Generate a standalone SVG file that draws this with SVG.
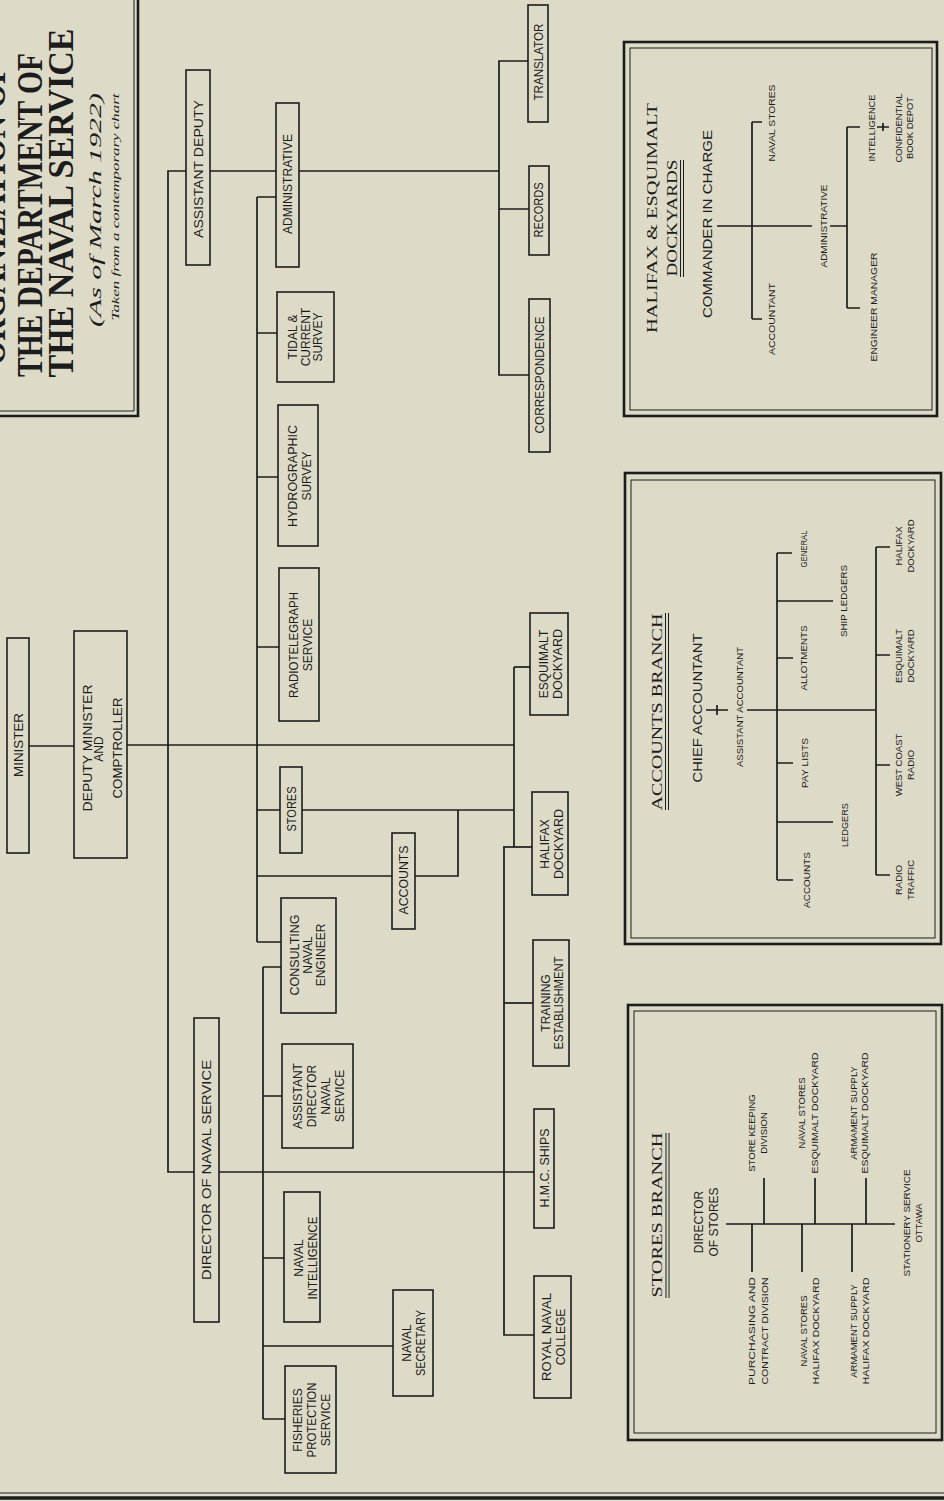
<svg xmlns="http://www.w3.org/2000/svg" width="944" height="1501" viewBox="0 0 944 1501">
<style>
.bg{fill:#dddac7}
.b{fill:none;stroke:#1c1c1c;stroke-width:1.6}
.c{fill:none;stroke:#1c1c1c;stroke-width:1.7}
.o{fill:none;stroke:#1c1c1c;stroke-width:2.6}
.i{fill:none;stroke:#1c1c1c;stroke-width:1}
.t{font-family:"Liberation Sans",Arial,sans-serif;fill:#1c1c1c;text-anchor:middle;font-size:12px}
.p{font-family:"Liberation Sans",Arial,sans-serif;fill:#1c1c1c;text-anchor:middle;font-size:9.5px}
.s{font-family:"Liberation Serif","Times New Roman",serif;fill:#1c1c1c;text-anchor:middle}
</style>
<rect class="bg" x="0" y="0" width="944" height="1501"/>

<g id="title">
<path class="o" d="M138,-5 V416 H-5"/>
<path class="i" d="M134,-5 V411 H-5"/>
<text class="s" font-weight="bold" font-size="36" transform="translate(5 215) rotate(-90)" textLength="300" lengthAdjust="spacingAndGlyphs">ORGANIZATION OF</text>
<text class="s" font-weight="bold" font-size="36" transform="translate(42 215) rotate(-90)" textLength="324" lengthAdjust="spacingAndGlyphs">THE DEPARTMENT OF</text>
<text class="s" font-weight="bold" font-size="36" transform="translate(73 203) rotate(-90)" textLength="349" lengthAdjust="spacingAndGlyphs">THE NAVAL SERVICE</text>
<text class="s" font-style="italic" font-size="16" transform="translate(101 210) rotate(-90)" textLength="234" lengthAdjust="spacingAndGlyphs">(As of March 1922)</text>
<text class="s" font-style="italic" font-size="11" transform="translate(119 207) rotate(-90)" textLength="227" lengthAdjust="spacingAndGlyphs">Taken from a contemporary chart</text>
</g>

<g id="connectors">
<path class="c" d="M29,746 H74"/>
<path class="c" d="M127,745 H514"/>
<path class="c" d="M514,667 V847"/>
<path class="c" d="M514,667 H530"/>
<path class="c" d="M503,847 H532"/>
<path class="c" d="M302,810 H514"/>
<path class="c" d="M458,810 V876 H415"/>
<path class="c" d="M257,876 H392"/>
<path class="c" d="M257,197 V942"/>
<path class="c" d="M257,197 H276 M257,333 H277 M257,477 H278 M257,647 H279 M257,810 H280 M257,942 H281"/>
<path class="c" d="M263,967 V1419"/>
<path class="c" d="M263,967 H281 M263,1096 H282 M263,1258 H284 M263,1346 H393 M263,1419 H285"/>
<path class="c" d="M186,171 H168 V1172 H194"/>
<path class="c" d="M219,1172 H534"/>
<path class="c" d="M504,847 V1335 H534"/>
<path class="c" d="M504,1003 H533"/>
<path class="c" d="M210,171 H276 M299,171 H499"/>
<path class="c" d="M528,61 H499 V375 H529 M499,209 H529"/>
</g>

<g id="n-minister"><rect class="b" x="7" y="638" width="22" height="215"/>
<text class="t" font-size="13.5" transform="translate(23 745) rotate(-90)" textLength="64" lengthAdjust="spacingAndGlyphs">MINISTER</text></g>

<g id="n-deputy"><rect class="b" x="74" y="631" width="53" height="227"/>
<text class="t" font-size="13.5" transform="translate(92 748) rotate(-90)" textLength="127" lengthAdjust="spacingAndGlyphs">DEPUTY  MINISTER</text>
<text class="t" font-size="7" transform="translate(103 749) rotate(-90)">AND</text>
<text class="t" font-size="13.5" transform="translate(122 748) rotate(-90)" textLength="101" lengthAdjust="spacingAndGlyphs">COMPTROLLER</text></g>

<g id="n-asstdeputy"><rect class="b" x="186" y="70" width="24" height="195"/>
<text class="t" font-size="13" transform="translate(203 169) rotate(-90)" textLength="138" lengthAdjust="spacingAndGlyphs">ASSISTANT DEPUTY</text></g>

<g id="n-admin"><rect class="b" x="276" y="103" width="23" height="164"/>
<text class="t" font-size="11.5" transform="translate(292 184) rotate(-90)" textLength="100" lengthAdjust="spacingAndGlyphs">ADMINISTRATIVE</text></g>

<g id="n-tidal"><rect class="b" x="277" y="292" width="57" height="90"/>
<text class="t" font-size="11" transform="translate(297 337) rotate(-90)">TIDAL &amp;</text>
<text class="t" font-size="11" transform="translate(309.5 337) rotate(-90)">CURRENT</text>
<text class="t" font-size="11" transform="translate(322 337) rotate(-90)">SURVEY</text></g>

<g id="n-hydro"><rect class="b" x="278" y="405" width="40" height="141"/>
<text class="t" transform="translate(297 476) rotate(-90)" textLength="102" lengthAdjust="spacingAndGlyphs">HYDROGRAPHIC</text>
<text class="t" transform="translate(311 476) rotate(-90)">SURVEY</text></g>

<g id="n-radio"><rect class="b" x="279" y="568" width="40" height="153"/>
<text class="t" font-size="11.5" transform="translate(297.5 645) rotate(-90)" textLength="106" lengthAdjust="spacingAndGlyphs">RADIOTELEGRAPH</text>
<text class="t" font-size="11.5" transform="translate(311.5 645) rotate(-90)">SERVICE</text></g>

<g id="n-stores"><rect class="b" x="280" y="767" width="22" height="86"/>
<text class="t" transform="translate(295.5 809) rotate(-90)" textLength="45" lengthAdjust="spacingAndGlyphs">STORES</text></g>

<g id="n-accounts"><rect class="b" x="392" y="833" width="23" height="96"/>
<text class="t" transform="translate(407.5 880) rotate(-90)" textLength="69" lengthAdjust="spacingAndGlyphs">ACCOUNTS</text></g>

<g id="n-consulting"><rect class="b" x="281" y="898" width="55" height="115"/>
<text class="t" transform="translate(298.5 955) rotate(-90)" textLength="81" lengthAdjust="spacingAndGlyphs">CONSULTING</text>
<text class="t" transform="translate(311.5 955) rotate(-90)">NAVAL</text>
<text class="t" transform="translate(324.5 955) rotate(-90)">ENGINEER</text></g>

<g id="n-adns"><rect class="b" x="282" y="1044" width="71" height="104"/>
<text class="t" transform="translate(302 1096) rotate(-90)">ASSISTANT</text>
<text class="t" transform="translate(316 1096) rotate(-90)">DIRECTOR</text>
<text class="t" transform="translate(330 1096) rotate(-90)">NAVAL</text>
<text class="t" transform="translate(344 1096) rotate(-90)">SERVICE</text></g>

<g id="n-navint"><rect class="b" x="284" y="1192" width="36" height="130"/>
<text class="t" font-size="11.5" transform="translate(303 1258) rotate(-90)">NAVAL</text>
<text class="t" font-size="11.5" transform="translate(317 1258) rotate(-90)" textLength="83" lengthAdjust="spacingAndGlyphs">INTELLIGENCE</text></g>

<g id="n-dns"><rect class="b" x="194" y="1018" width="25" height="304"/>
<text class="t" font-size="13.5" transform="translate(211 1170) rotate(-90)" textLength="220" lengthAdjust="spacingAndGlyphs">DIRECTOR  OF  NAVAL  SERVICE</text></g>

<g id="n-navsec"><rect class="b" x="393" y="1290" width="40" height="106"/>
<text class="t" font-size="11.5" transform="translate(411 1343) rotate(-90)">NAVAL</text>
<text class="t" font-size="11.5" transform="translate(425 1343) rotate(-90)" textLength="66" lengthAdjust="spacingAndGlyphs">SECRETARY</text></g>

<g id="n-fisheries"><rect class="b" x="285" y="1366" width="51" height="107"/>
<text class="t" transform="translate(302 1420) rotate(-90)">FISHERIES</text>
<text class="t" transform="translate(316 1420) rotate(-90)" textLength="75" lengthAdjust="spacingAndGlyphs">PROTECTION</text>
<text class="t" transform="translate(330 1420) rotate(-90)">SERVICE</text></g>

<g id="n-hmc"><rect class="b" x="534" y="1109" width="20" height="119"/>
<text class="t" font-size="12.5" transform="translate(548.5 1168) rotate(-90)" textLength="79" lengthAdjust="spacingAndGlyphs">H.M.C. SHIPS</text></g>

<g id="n-training"><rect class="b" x="533" y="940" width="36" height="126"/>
<text class="t" font-size="11.5" transform="translate(549.5 1003) rotate(-90)">TRAINING</text>
<text class="t" font-size="11.5" transform="translate(563 1003) rotate(-90)" textLength="93" lengthAdjust="spacingAndGlyphs">ESTABLISHMENT</text></g>

<g id="n-halifax"><rect class="b" x="532" y="792" width="36" height="103"/>
<text class="t" transform="translate(548.5 844) rotate(-90)">HALIFAX</text>
<text class="t" transform="translate(562.5 844) rotate(-90)" textLength="70" lengthAdjust="spacingAndGlyphs">DOCKYARD</text></g>

<g id="n-esquimalt"><rect class="b" x="530" y="613" width="38" height="102"/>
<text class="t" transform="translate(548 664) rotate(-90)">ESQUIMALT</text>
<text class="t" transform="translate(562 664) rotate(-90)" textLength="70" lengthAdjust="spacingAndGlyphs">DOCKYARD</text></g>

<g id="n-rnc"><rect class="b" x="534" y="1276" width="37" height="122"/>
<text class="t" transform="translate(551 1337) rotate(-90)" textLength="88" lengthAdjust="spacingAndGlyphs">ROYAL NAVAL</text>
<text class="t" transform="translate(564.5 1337) rotate(-90)">COLLEGE</text></g>

<g id="n-translator"><rect class="b" x="528" y="5" width="20" height="117"/>
<text class="t" font-size="11.5" transform="translate(542.5 62) rotate(-90)" textLength="77" lengthAdjust="spacingAndGlyphs">TRANSLATOR</text></g>

<g id="n-records"><rect class="b" x="529" y="166" width="20" height="89"/>
<text class="t" font-size="11.5" transform="translate(543 210) rotate(-90)" textLength="55" lengthAdjust="spacingAndGlyphs">RECORDS</text></g>

<g id="n-correspondence"><rect class="b" x="529" y="299" width="21" height="153"/>
<text class="t" transform="translate(544 375) rotate(-90)" textLength="117" lengthAdjust="spacingAndGlyphs">CORRESPONDENCE</text></g>

<g id="panel-dockyards">
<rect class="o" x="624" y="42" width="313" height="374"/>
<rect class="i" x="630" y="48" width="302" height="362"/>
<text class="s" font-size="14" transform="translate(657 218) rotate(-90)" textLength="230" lengthAdjust="spacingAndGlyphs">HALIFAX &amp; ESQUIMALT</text>
<text class="s" font-size="15" transform="translate(677 218) rotate(-90)" textLength="117" lengthAdjust="spacingAndGlyphs">DOCKYARDS</text>
<path class="i" d="M680.5,160 V277 M683.5,160 V277"/>
<text class="t" font-size="14" transform="translate(712 224) rotate(-90)" textLength="188" lengthAdjust="spacingAndGlyphs">COMMANDER IN CHARGE</text>
<path class="c" d="M717,226 H812 M830,226 H847 M752,122 V319 M752,122 H762 M752,319 H762 M847,127 V308 M847,127 H860 M847,308 H860 M877,127 H889 M883,123 V131"/>
<text class="p" transform="translate(775 123) rotate(-90)" textLength="77" lengthAdjust="spacingAndGlyphs">NAVAL STORES</text>
<text class="p" transform="translate(775 319) rotate(-90)" textLength="72" lengthAdjust="spacingAndGlyphs">ACCOUNTANT</text>
<text class="p" transform="translate(827 226) rotate(-90)" textLength="83" lengthAdjust="spacingAndGlyphs">ADMINISTRATIVE</text>
<text class="p" transform="translate(875 128) rotate(-90)" textLength="67" lengthAdjust="spacingAndGlyphs">INTELLIGENCE</text>
<text class="p" transform="translate(877 307) rotate(-90)" textLength="109" lengthAdjust="spacingAndGlyphs">ENGINEER MANAGER</text>
<text class="p" transform="translate(902 128) rotate(-90)" textLength="69" lengthAdjust="spacingAndGlyphs">CONFIDENTIAL</text>
<text class="p" transform="translate(913 128) rotate(-90)" textLength="62" lengthAdjust="spacingAndGlyphs">BOOK DEPOT</text>
</g>

<g id="panel-accounts">
<rect class="o" x="625" y="473" width="316" height="471"/>
<rect class="i" x="631" y="480" width="304" height="458"/>
<text class="s" font-size="15" transform="translate(662 712) rotate(-90)" textLength="197" lengthAdjust="spacingAndGlyphs">ACCOUNTS BRANCH</text>
<path class="i" d="M665.5,613 V810 M668.5,613 V810"/>
<text class="t" font-size="14" transform="translate(702 708) rotate(-90)" textLength="149" lengthAdjust="spacingAndGlyphs">CHIEF ACCOUNTANT</text>
<path class="c" d="M706,710 H728 M717,705 V715"/>
<text class="p" transform="translate(743 707) rotate(-90)" textLength="120" lengthAdjust="spacingAndGlyphs">ASSISTANT ACCOUNTANT</text>
<path class="c" d="M747,710 H876 M777,553 V880 M777,553 H792 M777,601 H833 M777,658 H793 M777,763 H793 M777,822 H833 M777,880 H793 M876,547 V875 M876,547 H890 M876,655 H890 M876,765 H890 M876,875 H890"/>
<text class="p" transform="translate(807 549) rotate(-90)" textLength="37" lengthAdjust="spacingAndGlyphs">GENERAL</text>
<text class="p" transform="translate(847 601) rotate(-90)" textLength="72" lengthAdjust="spacingAndGlyphs">SHIP LEDGERS</text>
<text class="p" transform="translate(807 658) rotate(-90)" textLength="65" lengthAdjust="spacingAndGlyphs">ALLOTMENTS</text>
<text class="p" transform="translate(808 763) rotate(-90)" textLength="50" lengthAdjust="spacingAndGlyphs">PAY LISTS</text>
<text class="p" transform="translate(848 825) rotate(-90)" textLength="44" lengthAdjust="spacingAndGlyphs">LEDGERS</text>
<text class="p" transform="translate(810 880) rotate(-90)" textLength="56" lengthAdjust="spacingAndGlyphs">ACCOUNTS</text>
<text class="p" transform="translate(902 546) rotate(-90)">HALIFAX</text>
<text class="p" transform="translate(914 546) rotate(-90)">DOCKYARD</text>
<text class="p" transform="translate(902 656) rotate(-90)">ESQUIMALT</text>
<text class="p" transform="translate(914 656) rotate(-90)">DOCKYARD</text>
<text class="p" transform="translate(902 765) rotate(-90)">WEST COAST</text>
<text class="p" transform="translate(914 765) rotate(-90)">RADIO</text>
<text class="p" transform="translate(902 880) rotate(-90)">RADIO</text>
<text class="p" transform="translate(914 880) rotate(-90)">TRAFFIC</text>
</g>

<g id="panel-stores">
<rect class="o" x="628" y="1005" width="314" height="435"/>
<rect class="i" x="634" y="1011" width="302" height="422"/>
<text class="s" font-size="15" transform="translate(662 1215) rotate(-90)" textLength="165" lengthAdjust="spacingAndGlyphs">STORES BRANCH</text>
<path class="i" d="M666,1133 V1298 M669,1133 V1298"/>
<text class="t" font-size="13.5" transform="translate(703 1222) rotate(-90)">DIRECTOR</text>
<text class="t" font-size="13.5" transform="translate(718 1222) rotate(-90)">OF STORES</text>
<path class="c" d="M726,1224 H895 M764,1224 V1178 M815,1224 V1178 M866,1224 V1178 M752,1224 V1272 M802,1224 V1272 M852,1224 V1272"/>
<text class="p" font-size="10" transform="translate(755 1133) rotate(-90)">STORE KEEPING</text>
<text class="p" font-size="10" transform="translate(767 1133) rotate(-90)">DIVISION</text>
<text class="p" font-size="10" transform="translate(805 1113) rotate(-90)">NAVAL STORES</text>
<text class="p" font-size="10" transform="translate(818 1113) rotate(-90)" textLength="121" lengthAdjust="spacingAndGlyphs">ESQUIMALT DOCKYARD</text>
<text class="p" font-size="10" transform="translate(857 1113) rotate(-90)">ARMAMENT SUPPLY</text>
<text class="p" font-size="10" transform="translate(868 1113) rotate(-90)" textLength="121" lengthAdjust="spacingAndGlyphs">ESQUIMALT DOCKYARD</text>
<text class="p" font-size="10" transform="translate(755 1331) rotate(-90)" textLength="108" lengthAdjust="spacingAndGlyphs">PURCHASING AND</text>
<text class="p" font-size="10" transform="translate(768 1331) rotate(-90)" textLength="107" lengthAdjust="spacingAndGlyphs">CONTRACT DIVISION</text>
<text class="p" font-size="10" transform="translate(807 1331) rotate(-90)">NAVAL STORES</text>
<text class="p" font-size="10" transform="translate(819 1331) rotate(-90)" textLength="107" lengthAdjust="spacingAndGlyphs">HALIFAX DOCKYARD</text>
<text class="p" font-size="10" transform="translate(857 1331) rotate(-90)">ARMAMENT SUPPLY</text>
<text class="p" font-size="10" transform="translate(869 1331) rotate(-90)" textLength="107" lengthAdjust="spacingAndGlyphs">HALIFAX DOCKYARD</text>
<text class="p" font-size="10" transform="translate(910 1223) rotate(-90)" textLength="107" lengthAdjust="spacingAndGlyphs">STATIONERY SERVICE</text>
<text class="p" font-size="10" transform="translate(922 1223) rotate(-90)">OTTAWA</text>
</g>

<g id="page-rule">
<path class="i" d="M0,1493 H944" stroke-width="1.2"/>
<path d="M0,1498 H944" stroke="#1c1c1c" stroke-width="3.5"/>
</g>
</svg>
